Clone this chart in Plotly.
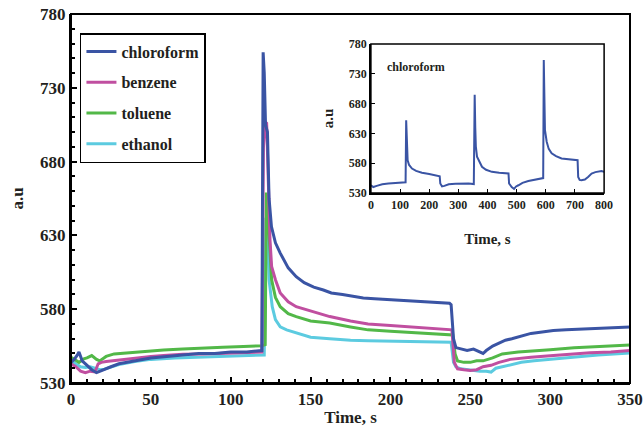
import plotly.graph_objects as go

# ---------------- data ----------------
series_names = ["chloroform", "benzene", "toluene", "ethanol"]
series_colors = ["#3a54a4", "#c04fa0", "#52b848", "#5ccbe0"]

chloroform_t = [0, 2, 4, 5, 7, 10, 13, 16, 20, 25,
                30, 40, 50, 60, 70, 80, 90, 100, 110, 119.5,
                120.3, 121, 121.8, 123, 124, 125.5, 128, 131, 136, 141,
                146, 152, 158, 163, 170, 177, 183, 190, 197, 204,
                212, 220, 228, 237, 238, 239.5, 241, 244, 248, 252,
                256, 258, 260, 264, 268, 272, 276, 282, 288, 295,
                302, 310, 318, 326, 334, 342, 350]
chloroform_v = [544, 546, 549, 551, 545, 542, 539, 537, 539, 541,
                543, 545, 547, 548, 549, 550, 550, 551, 551, 552,
                754, 740, 705, 700, 655, 636, 625, 618, 608, 602,
                598, 595, 593, 591, 590, 588.5, 587.6, 587, 586.5, 586,
                585.5, 585, 584.5, 584, 583, 560, 554, 553, 552, 553,
                551, 550, 552, 555, 557, 559, 560, 562, 563.6, 564.5,
                565.5, 566, 566.5, 567, 567.5, 568, 568]

benzene_t = [0, 3, 6, 9, 12, 15, 17, 19, 22, 26,
             32, 40, 50, 58, 70, 83, 95, 105, 115, 119.5,
             120.5, 121.5, 122.5, 123.5, 124.6, 125.6, 128, 131, 136, 141,
             150, 162, 175, 186, 200, 215, 230, 237, 238.5, 240,
             242, 246, 250, 254, 258, 263, 268, 275, 282, 288,
             300, 314, 325, 338, 350]
benzene_v = [543, 541, 538, 537, 538, 537.5, 543, 544, 544.5, 545,
             546, 547, 548, 548.6, 549.5, 549.7, 550, 550.5, 551, 551,
             690, 707, 706, 672, 627, 609, 600, 591, 585, 581.7,
             579, 575, 572, 570, 569, 568, 567, 566.5, 566, 544,
             539.6, 539, 538.5, 539, 541, 542, 544, 546, 547, 547.5,
             548.5, 549.7, 550.5, 551, 552]

toluene_t = [0, 2, 5, 8, 10, 13, 16, 18, 22, 27,
             35, 45, 58, 70, 83, 95, 108, 119.5, 121.6, 122.3,
             123, 125.6, 128, 131, 136, 141, 150, 162, 175, 186,
             200, 215, 230, 237, 239, 240.5, 242, 246, 250, 254,
             258, 264, 270, 280, 290, 300, 315, 330, 350]
toluene_v = [547.5, 546, 544, 546.4, 547, 548.6, 546, 545, 548, 549.7,
             550.5, 551.5, 552.4, 553, 553.8, 554.3, 554.8, 555.3, 556, 659,
             650, 600, 588, 581.7, 577, 575, 572, 570.6, 568, 566,
             565, 564, 563.5, 563, 562.5, 549.7, 545, 544, 544, 545,
             545, 547, 549.7, 551, 552, 552.5, 553.8, 554.5, 555.8]

ethanol_t = [0, 3, 6, 9, 12, 15, 18, 21, 25, 30,
             40, 50, 65, 80, 95, 110, 119.5, 121, 122, 122.8,
             124, 126, 128, 131, 135, 141, 150, 162, 175, 186,
             200, 215, 230, 238, 239.5, 241, 244, 248, 252, 256,
             260, 263, 266, 270, 276, 282, 290, 300, 315, 330,
             350]
ethanol_v = [545, 543, 541, 540.5, 541, 540, 539, 539.4, 541, 542.5,
             544.5, 546, 547, 547.5, 548, 548.5, 549, 549, 642, 640,
             600, 581.7, 573, 568, 566, 564, 561, 560, 559, 558.7,
             558.5, 558, 557.6, 557.6, 544, 541, 539.6, 539, 538.5, 538,
             538, 537.4, 540, 541, 543, 544, 545, 546, 548, 549,
             550.4]

inset_t = [0, 8, 20, 39, 60, 80, 100, 119, 121, 123,
           126, 131, 141, 155, 175, 200, 221, 236, 238, 244,
           252, 267, 290, 312, 335, 353, 356, 358, 360, 364,
           371, 381, 395, 415, 440, 472, 474, 483, 491, 498,
           506, 520, 540, 560, 580, 591, 593, 595, 597, 603,
           610, 620, 635, 654, 680, 709, 711, 716, 722, 734,
           745, 757, 770, 791, 800]
inset_v = [543, 540, 542, 544.7, 546, 546.5, 547, 548, 652, 600,
           585, 577, 571, 567, 564, 562, 560, 558, 546, 541,
           542, 544.7, 545.5, 545.8, 546, 545, 695, 640, 608, 591,
           583, 574, 569, 565.5, 564, 562.7, 546, 540, 537, 541,
           543, 547, 550, 552, 554, 555, 753, 704, 636, 616,
           604, 596.6, 592, 588, 586, 585, 557, 552, 551.4, 552.6,
           557, 562.7, 565, 567, 565.6]

main_x_range = [0, 350]
main_y_range = [530, 780]
inset_x_range = [0, 800]
inset_y_range = [530, 780]

x_title = "Time, s"
y_title = "a.u"
inset_label = "chloroform"

# ---------------- figure ----------------
FONT = "Liberation Serif"
TXT = "#231f20"
fig = go.Figure()

all_t = [chloroform_t, benzene_t, toluene_t, ethanol_t]
all_v = [chloroform_v, benzene_v, toluene_v, ethanol_v]
for i in [3, 2, 1, 0]:
    fig.add_trace(go.Scatter(
        x=all_t[i], y=all_v[i], mode="lines", name=series_names[i],
        legendgroup=series_names[i], legendrank=i + 1,
        line=dict(color=series_colors[i], width=3),
    ))

fig.add_trace(go.Scatter(
    x=inset_t, y=inset_v, mode="lines", xaxis="x2", yaxis="y2",
    showlegend=False, line=dict(color=series_colors[0], width=2),
))

axis_common = dict(
    showline=True, linecolor="black", showgrid=False, automargin=False,
    zeroline=False, ticks="inside", tickcolor="black", ticklabeloverflow="allow",
)

fig.update_layout(
    width=643, height=435,
    margin=dict(l=71, r=13, t=14, b=52),
    paper_bgcolor="white", plot_bgcolor="white",
    font=dict(family=FONT, color=TXT, weight="bold"),
    xaxis=dict(
        **axis_common, range=main_x_range, tick0=0, dtick=50, linewidth=2,
        ticklen=6, tickwidth=1.5,
        minor=dict(ticks="inside", dtick=10, ticklen=4, tickcolor="black", tickwidth=1.5),
        tickfont=dict(family=FONT, size=17, weight="bold", color=TXT),
        title=dict(text=x_title, font=dict(family=FONT, size=17, weight="bold"), standoff=3),
    ),
    yaxis=dict(
        **axis_common, range=main_y_range, tick0=530, dtick=50, linewidth=2,
        ticklen=6, tickwidth=1.5,
        minor=dict(ticks="inside", tick0=530, dtick=10, ticklen=4, tickcolor="black", tickwidth=1.5),
        tickfont=dict(family=FONT, size=17, weight="bold", color=TXT),
        title=dict(text=y_title, font=dict(family=FONT, size=17, weight="bold"), standoff=12),
    ),
    xaxis2=dict(
        **axis_common, range=inset_x_range, tick0=0, dtick=100, linewidth=1.5,
        ticklen=4, domain=[0.5365, 0.9537], anchor="y2",
        tickfont=dict(family=FONT, size=12, weight="bold", color=TXT),
        title=dict(text=x_title, font=dict(family=FONT, size=15, weight="bold"), standoff=22),
    ),
    yaxis2=dict(
        **axis_common, range=inset_y_range, tick0=530, dtick=50, linewidth=1.5,
        ticklen=4, domain=[0.5149, 0.9187], anchor="x2",
        tickfont=dict(family=FONT, size=12, weight="bold", color=TXT),
        title=dict(text=y_title, font=dict(family=FONT, size=15, weight="bold"), standoff=12),
    ),
    legend=dict(
        x=0.016, y=0.9485, xanchor="left", yanchor="top",
        bordercolor="black", borderwidth=1.5, bgcolor="white",
        font=dict(family=FONT, size=16, weight="bold", color=TXT),
        tracegroupgap=7, itemwidth=30,
    ),
    showlegend=True,
    annotations=[dict(
        text=inset_label, xref="x2 domain", yref="y2 domain",
        x=0.06, y=0.846, xanchor="left", yanchor="middle", showarrow=False,
        font=dict(family=FONT, size=12, weight="bold", color=TXT),
    )],
    shapes=[
        dict(type="rect", xref="x domain", yref="y domain", x0=0, x1=1, y0=0, y1=1,
             line=dict(color="black", width=2), layer="above"),
        dict(type="rect", xref="x2 domain", yref="y2 domain", x0=0, x1=1, y0=0, y1=1,
             line=dict(color="black", width=1.5), layer="above"),
    ],
)

fig.write_html(
    "out.html",
    config={"displayModeBar": False},
    post_script="document.body.style.margin='0px';document.body.style.padding='0px';",
)
